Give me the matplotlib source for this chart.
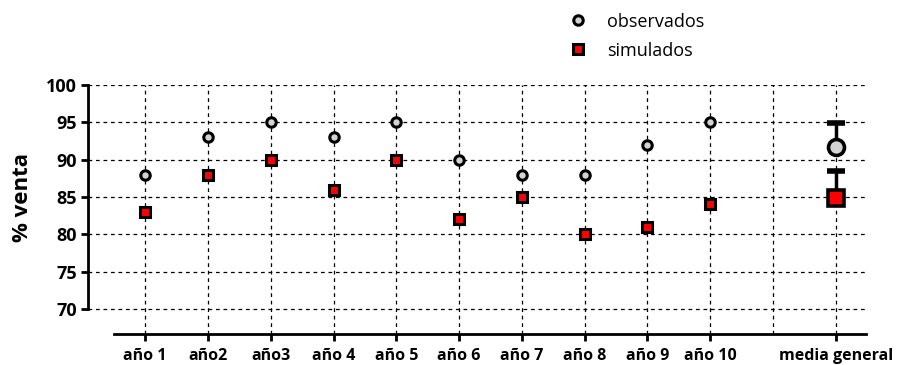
import matplotlib
matplotlib.use("Agg")
import matplotlib.pyplot as plt
import numpy as np

# datos
categorias = ["año 1", "año2", "año3", "año 4", "año 5", "año 6", "año 7", "año 8", "año 9", "año 10"]
observados = [88, 93, 95, 93, 95, 90, 88, 88, 92, 95]
simulados = [83, 88, 90, 86, 90, 82, 85, 80, 81, 84]
media_obs, sd_obs = 91.7, 3.2
media_sim, sd_sim = 84.9, 3.6
etiqueta_media = "media general"

plt.rcParams["font.family"] = ["Open Sans", "DejaVu Sans"]

fig = plt.figure(figsize=(9.03, 3.65), dpi=100)
ax = fig.add_axes([0.0975, 0.085, 0.8615, 0.682])

x = np.arange(1, len(categorias) + 1)
x_media = len(categorias) + 2

ax.plot(x, observados, "o", ms=6.8, mfc="#d3d3d3", mec="black", mew=2.2,
        ls="none", label="observados", zorder=3)
ax.plot(x, simulados, "s", ms=7, mfc="#ff0000", mec="black", mew=2.2,
        ls="none", label="simulados", zorder=3)

# media general con barra de error (solo hacia arriba)
for media, sd, mk in [(media_obs, sd_obs, "o"), (media_sim, sd_sim, "s")]:
    ax.vlines(x_media, media, media + sd, color="black", lw=2.5, zorder=2)
    ax.plot([x_media], [media + sd], marker="_", ms=13, mew=4, color="black", zorder=2)
    ax.plot([x_media], [media], marker=mk, ms=11.5, mew=2.6, ls="none",
            mfc="#d3d3d3" if mk == "o" else "#ff0000", mec="black", zorder=3)

ax.set_ylim(66.65, 100)
ax.set_xlim(0.09, 12.48)
ax.set_yticks(np.arange(70, 101, 5))
ax.set_xticks(list(x) + [x_media])
ax.set_xticklabels(categorias + [etiqueta_media], fontweight="bold", fontsize=11.5)
for lbl in ax.get_yticklabels():
    lbl.set_fontweight("bold")
    lbl.set_fontsize(13)

# rejilla
for yv in np.arange(70, 101, 5):
    ax.axhline(yv, color="black", lw=0.9, ls=(0, (3, 3)), zorder=1)
for xv in list(x) + [x_media - 1, x_media]:
    ax.axvline(xv, color="black", lw=0.9, ls=(0, (3, 3)), zorder=1)

ax.spines["top"].set_visible(False)
ax.spines["right"].set_visible(False)
ax.spines["left"].set_bounds(70, 100)
ax.spines["bottom"].set_bounds(0.5, 12.48)
ax.spines["left"].set_linewidth(2)
ax.spines["bottom"].set_linewidth(2)
ax.tick_params(axis="both", direction="out", length=5, width=2, pad=3)
ax.tick_params(axis="x", pad=5)

ax.set_ylabel("% venta", fontsize=16, fontweight="bold")
ax.yaxis.set_label_coords(-0.071, 0.55)

leg = ax.legend(loc="upper left", bbox_to_anchor=(0.622, 0.985), bbox_transform=fig.transFigure,
                frameon=False, fontsize=13, handletextpad=1.1, labelspacing=0.6,
                borderaxespad=0.0, handlelength=1.0, markerscale=1.0)

plt.savefig("out.png", dpi=100)
plt.close(fig)
